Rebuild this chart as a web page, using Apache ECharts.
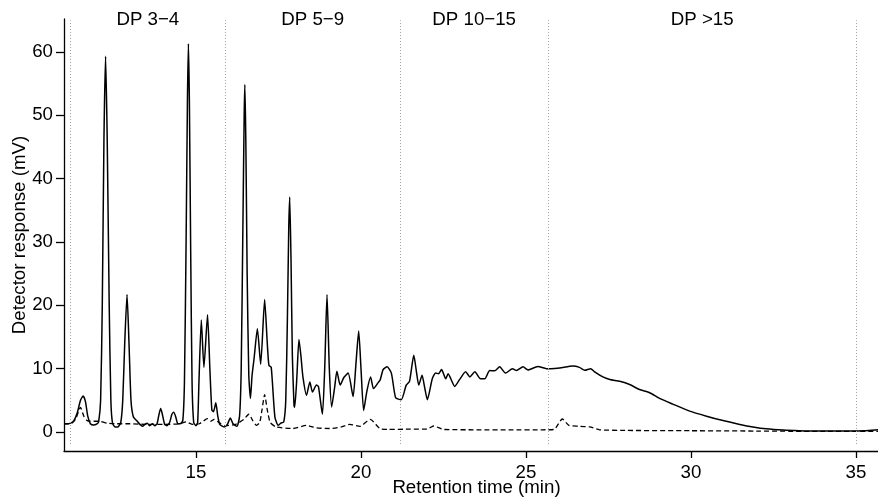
<!DOCTYPE html>
<html>
<head>
<meta charset="utf-8">
<script src="https://cdn.jsdelivr.net/npm/echarts@6/dist/echarts.min.js"></script>
<style>html,body{margin:0;padding:0;background:#fff;overflow:hidden}#c{width:889px;height:502px}</style>
</head>
<body>
<div id="c"></div>
<script>
// Sample chromatogram (retention time min, response mV)
const sampleTrace = [
  [11.0,1.3],[11.1,1.3],[11.2,1.4],[11.3,1.8],[11.4,3.0],[11.5,5.0],[11.58,5.7],[11.65,4.8],[11.72,2.5],[11.8,1.3],
  [11.9,1.1],[12.0,1.3],[12.05,1.6],[12.11,5],[12.16,20],[12.21,46],[12.26,59.3],[12.31,46],[12.37,20],[12.42,5],
  [12.47,1.4],[12.55,0.8],[12.63,0.8],[12.72,1.5],[12.78,5],[12.84,14],[12.91,21.7],[12.97,14],[13.03,5],[13.1,2.4],
  [13.2,1.8],[13.3,1.2],[13.38,0.9],[13.45,1.2],[13.52,1.4],[13.6,1.0],[13.68,1.3],[13.75,1.0],[13.82,1.3],[13.88,2.8],
  [13.93,3.7],[13.98,2.8],[14.05,1.2],[14.12,1.0],[14.2,1.5],[14.27,2.8],[14.32,3.1],[14.38,2.5],[14.45,1.3],[14.52,1.3],
  [14.6,1.8],[14.65,8],[14.70,30],[14.74,52],[14.77,61.3],[14.80,52],[14.84,28],[14.88,8],[14.93,1.5],[15.0,1.0],
  [15.05,1.5],[15.09,8],[15.16,17.7],[15.24,10.2],[15.35,18.5],[15.42,10],[15.48,3.5],[15.53,3.2],[15.6,4.6],[15.66,2.5],
  [15.72,1.2],[15.85,0.8],[15.95,1.2],[16.04,2.2],[16.12,1.3],[16.24,0.9],[16.32,2.5],[16.37,10],[16.42,32],[16.46,50],
  [16.48,54.85],[16.51,46],[16.55,25],[16.60,9],[16.65,5.3],[16.70,9],[16.76,11.6],[16.86,16.3],[16.96,10.7],[17.08,20.9],
  [17.16,14],[17.21,10.5],[17.28,10.2],[17.39,2.4],[17.49,1.05],[17.57,1.4],[17.66,1.6],[17.72,5],[17.77,18],[17.81,32],
  [17.84,37.1],[17.88,27],[17.92,12],[17.97,4.2],[17.99,3.9],[18.05,8],[18.12,14.6],[18.18,12],[18.24,8.7],[18.35,5.8],
  [18.45,7.9],[18.53,6.3],[18.65,7.4],[18.71,7.2],[18.83,2.8],[18.90,10],[18.97,21.7],[19.04,10],[19.11,3.95],[19.2,7],
  [19.27,9.6],[19.37,7.4],[19.48,8.6],[19.61,9.3],[19.76,5.6],[19.85,11],[19.93,15.95],[20.0,10],[20.08,3.4],[20.18,6.5],
  [20.29,8.7],[20.38,6.85],[20.52,7.8],[20.58,8.2],[20.67,9.85],[20.79,10.3],[20.92,9.3],[21.05,5.4],[21.22,5.1],[21.37,7.4],
  [21.47,8.0],[21.60,12.1],[21.68,9.5],[21.75,7.4],[21.85,8.95],[21.93,7],[22.01,5.1],[22.16,8.4],[22.26,9.3],[22.35,9.2],
  [22.44,9.85],[22.57,8.4],[22.64,9.2],[22.84,7.2],[22.99,8.3],[23.17,9.5],[23.30,8.7],[23.45,9.5],[23.62,8.4],[23.75,8.4],
  [23.90,9.7],[24.05,9.65],[24.20,10.3],[24.38,9.3],[24.59,10.0],[24.71,9.7],[24.91,10.3],[25.06,9.8],[25.36,10.35],[25.62,10.0],
  [25.75,10.0],[26.02,10.1],[26.42,10.4],[26.62,10.2],[26.78,9.75],[26.96,10.0],[27.08,9.5],[27.33,8.7],[27.54,8.3],[27.84,8.0],
  [28.14,7.5],[28.44,6.7],[28.75,6.2],[29.05,5.3],[29.45,4.4],[29.96,3.3],[30.47,2.5],[30.97,1.8],[31.48,1.2],[31.88,0.8],
  [32.28,0.5],[32.79,0.3],[33.29,0.2],[33.8,0.15],[34.8,0.15],[35.25,0.2],[35.66,0.35],[36.0,0.4]
];
// Blank / reference chromatogram (dashed)
const blankTrace = [
  [11.0,1.3],[11.2,1.3],[11.35,2.0],[11.5,3.9],[11.6,2.5],[11.7,1.8],[11.9,1.7],[12.08,1.7],[12.3,1.4],[12.6,1.3],
  [13.0,1.3],[13.5,1.2],[14.0,1.2],[14.5,1.3],[14.7,1.6],[14.9,1.2],[15.1,1.3],[15.35,2.1],[15.45,1.7],[15.55,2.0],
  [15.7,1.5],[15.9,1.0],[16.2,1.2],[16.45,2.0],[16.6,2.8],[16.72,1.8],[16.83,1.05],[16.93,1.5],[17.0,3.5],[17.08,5.9],
  [17.16,3.5],[17.25,1.5],[17.43,0.8],[17.94,0.55],[18.35,1.05],[18.65,0.65],[19.05,0.55],[19.4,0.8],[19.66,1.2],[19.97,0.9],
  [20.28,2.0],[20.57,0.55],[20.8,0.4],[21.5,0.45],[22.0,0.45],[22.2,0.95],[22.5,0.4],[23.5,0.35],[24.5,0.35],[25.5,0.35],
  [25.85,0.4],[26.1,2.05],[26.3,1.05],[26.6,0.9],[26.93,0.8],[27.23,0.35],[28.0,0.25],[30.0,0.2],[32.0,0.15],[34.0,0.1],
  [36.0,0.1]
];
const regionBounds = [11.19, 15.89, 21.18, 25.68, 35.0];
const regionNames = ['DP 3\u22124', 'DP 5\u22129', 'DP 10\u221215', 'DP >15'];
const xTicks = [15, 20, 25, 30, 35];
const yTicks = [0, 10, 20, 30, 40, 50, 60];

const FONT = 'Liberation Sans, Arial, Helvetica, sans-serif';
const FS = 18.7;
const chart = echarts.init(document.getElementById('c'), null, {renderer: 'canvas'});
const labelY = 65;
chart.setOption({
  animation: false,
  backgroundColor: '#fff',
  grid: {left: 64, right: 0, top: 19, bottom: 51, containLabel: false, outerBoundsMode: 'none'},
  xAxis: {
    type: 'value', min: 11, max: 36,
    axisLine: {onZero: false, lineStyle: {color: '#000', width: 1.3}},
    axisTick: {customValues: xTicks, length: 7, lineStyle: {color: '#000', width: 1.3}},
    axisLabel: {customValues: xTicks, margin: 12, fontSize: FS, color: '#000', fontFamily: FONT},
    splitLine: {show: false},
    name: 'Retention time (min)', nameLocation: 'middle', nameGap: 27, nameMoveOverlap: false,
    nameTextStyle: {fontSize: FS, color: '#000', fontFamily: FONT}
  },
  yAxis: {
    type: 'value', min: -3, max: 65.2,
    axisLine: {show: true, onZero: false, lineStyle: {color: '#000', width: 1.3}},
    axisTick: {show: true, customValues: yTicks, length: 8, lineStyle: {color: '#000', width: 1.3}},
    axisLabel: {customValues: yTicks, margin: 11, fontSize: FS, color: '#000', fontFamily: FONT},
    splitLine: {show: false},
    name: 'Detector response (mV)', nameLocation: 'middle', nameGap: 35, nameMoveOverlap: false,
    nameTextStyle: {fontSize: FS, color: '#000', fontFamily: FONT}
  },
  series: [
    {
      type: 'line', data: sampleTrace, showSymbol: false, symbol: 'none',
      smooth: 0.2,
      lineStyle: {color: '#000', width: 1.5, join: 'round'}, z: 3,
      markLine: {
        silent: true, symbol: ['none', 'none'], label: {show: false},
        lineStyle: {color: '#a0a0a0', width: 1, type: [1, 2]},
        data: regionBounds.map(b => [{coord: [b, -1.9]}, {coord: [b, 65]}])
      }
    },
    {
      type: 'line', data: blankTrace, showSymbol: false, symbol: 'none',
      smooth: 0.2,
      lineStyle: {color: '#000', width: 1.3, type: [5, 3]}, z: 2
    },
    {
      type: 'scatter', symbolSize: 1, itemStyle: {color: '#fff', opacity: 1},
      data: regionNames.map((n, i) => ({name: n, value: [(regionBounds[i] + regionBounds[i + 1]) / 2, labelY]})),
      label: {show: true, position: 'inside', formatter: p => p.name, fontSize: FS, color: '#000',
              fontFamily: FONT, textBorderWidth: 0, opacity: 1},
      silent: true, z: 1
    }
  ]
});
</script>
</body>
</html>
